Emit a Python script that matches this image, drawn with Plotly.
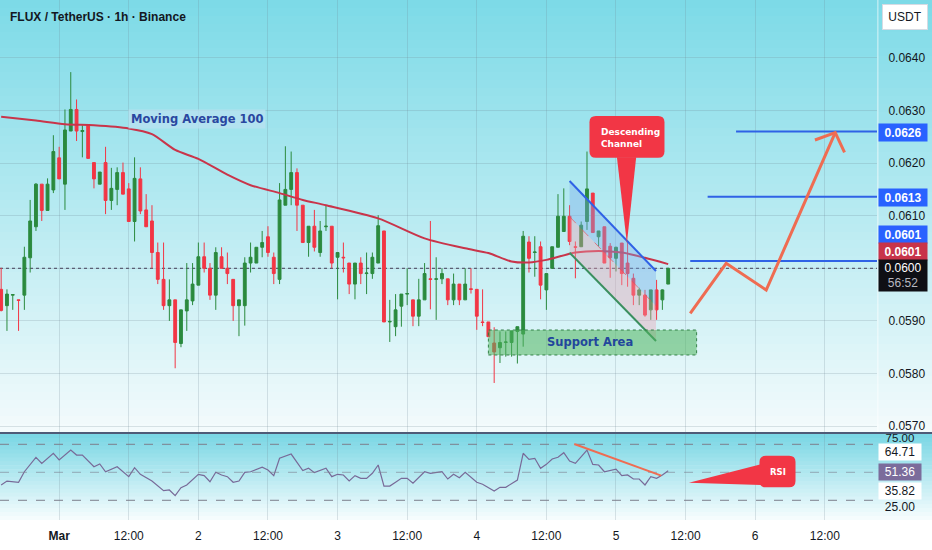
import plotly.graph_objects as go

# ---------------- data ----------------
# hourly candles, x = hours since 1 Mar 00:00
hours = list(range(-10, 106))
opens = [0.05960, 0.05929, 0.05949, 0.05940, 0.05949, 0.06020, 0.06079, 0.06160, 0.06110, 0.06149,
         0.06210, 0.06160, 0.06261, 0.06302, 0.06260, 0.06272, 0.06201, 0.06160, 0.06201, 0.06129,
         0.06150, 0.06182, 0.06151, 0.06089, 0.06170, 0.06111, 0.06090, 0.06030, 0.05979, 0.05929,
         0.05940, 0.05857, 0.05919, 0.05938, 0.05968, 0.06022, 0.06000, 0.05949, 0.06022, 0.06000,
         0.05979, 0.05929, 0.05929, 0.06010, 0.06010, 0.06040, 0.06060, 0.06021, 0.05979, 0.06120,
         0.06150, 0.06182, 0.06120, 0.06049, 0.06080, 0.06030, 0.06079, 0.06080, 0.06021, 0.06021,
         0.06010, 0.05970, 0.06010, 0.05990, 0.05990, 0.06010, 0.06071, 0.05898, 0.05889, 0.05928,
         0.05951, 0.05940, 0.05909, 0.05940, 0.05980, 0.05979, 0.05980, 0.05980, 0.05940, 0.05970,
         0.05940, 0.05961, 0.05960, 0.05898, 0.05898, 0.05858, 0.05849, 0.05859, 0.05859, 0.05880,
         0.05875, 0.06050, 0.06030, 0.06041, 0.05959, 0.06000, 0.06040, 0.06070, 0.06099, 0.06041,
         0.06041, 0.06089, 0.06143, 0.06060, 0.06079, 0.06042, 0.06019, 0.06048, 0.06010, 0.05981,
         0.05949, 0.05949, 0.05921, 0.05959, 0.05940, 0.05970]
highs = [0.06001, 0.05960, 0.05951, 0.05940, 0.06041, 0.06130, 0.06162, 0.06160, 0.06171, 0.06253,
         0.06231, 0.06302, 0.06373, 0.06321, 0.06272, 0.06272, 0.06201, 0.06183, 0.06231, 0.06191,
         0.06192, 0.06201, 0.06162, 0.06211, 0.06192, 0.06141, 0.06120, 0.06049, 0.06049, 0.05979,
         0.05940, 0.05921, 0.06010, 0.06010, 0.06049, 0.06049, 0.06010, 0.06040, 0.06040, 0.06030,
         0.05979, 0.05940, 0.06021, 0.06049, 0.06040, 0.06071, 0.06080, 0.06030, 0.06162, 0.06232,
         0.06222, 0.06190, 0.06120, 0.06080, 0.06111, 0.06090, 0.06120, 0.06080, 0.06030, 0.06049,
         0.06010, 0.06010, 0.06021, 0.06030, 0.06030, 0.06101, 0.06071, 0.05940, 0.05951, 0.05951,
         0.06000, 0.05940, 0.05980, 0.06010, 0.06090, 0.06021, 0.06000, 0.05980, 0.05990, 0.05970,
         0.06000, 0.06000, 0.05960, 0.05960, 0.05898, 0.05888, 0.05880, 0.05880, 0.05881, 0.05889,
         0.06071, 0.06061, 0.06061, 0.06051, 0.05990, 0.06041, 0.06141, 0.06152, 0.06120, 0.06051,
         0.06089, 0.06222, 0.06143, 0.06071, 0.06079, 0.06048, 0.06041, 0.06048, 0.06051, 0.05990,
         0.05963, 0.05959, 0.05959, 0.05978, 0.05960, 0.06000]
lows = [0.05918, 0.05881, 0.05921, 0.05881, 0.05921, 0.05992, 0.06071, 0.06090, 0.06110, 0.06143,
        0.06170, 0.06111, 0.06261, 0.06242, 0.06211, 0.06209, 0.06152, 0.06160, 0.06103, 0.06111,
        0.06120, 0.06141, 0.06089, 0.06051, 0.06103, 0.06079, 0.06000, 0.05970, 0.05921, 0.05900,
        0.05810, 0.05850, 0.05881, 0.05930, 0.05968, 0.05992, 0.05940, 0.05921, 0.06000, 0.05970,
        0.05900, 0.05871, 0.05891, 0.05992, 0.06010, 0.06021, 0.06022, 0.05970, 0.05970, 0.06120,
        0.06120, 0.06071, 0.06049, 0.06022, 0.06032, 0.06022, 0.06071, 0.06000, 0.05941, 0.05992,
        0.05951, 0.05941, 0.05970, 0.05951, 0.05980, 0.06010, 0.05898, 0.05860, 0.05871, 0.05889,
        0.05930, 0.05890, 0.05890, 0.05940, 0.05922, 0.05902, 0.05970, 0.05930, 0.05930, 0.05930,
        0.05940, 0.05952, 0.05883, 0.05890, 0.05870, 0.05782, 0.05820, 0.05832, 0.05832, 0.05819,
        0.05851, 0.05992, 0.05984, 0.05941, 0.05921, 0.06000, 0.06040, 0.06070, 0.06044, 0.05981,
        0.06041, 0.06073, 0.06068, 0.06042, 0.06010, 0.05982, 0.05994, 0.05968, 0.05965, 0.05930,
        0.05930, 0.05908, 0.05902, 0.05902, 0.05921, 0.05970]
closes = [0.05920, 0.05951, 0.05950, 0.05939, 0.06021, 0.06090, 0.06160, 0.06110, 0.06160, 0.06222,
          0.06170, 0.06263, 0.06302, 0.06261, 0.06262, 0.06209, 0.06170, 0.06183, 0.06129, 0.06152,
          0.06182, 0.06141, 0.06089, 0.06171, 0.06109, 0.06079, 0.06030, 0.05979, 0.05929, 0.05940,
          0.05859, 0.05921, 0.05940, 0.05970, 0.06022, 0.06000, 0.05949, 0.06030, 0.06000, 0.05990,
          0.05929, 0.05940, 0.06010, 0.06021, 0.06040, 0.06049, 0.06030, 0.05990, 0.06130, 0.06150,
          0.06182, 0.06120, 0.06049, 0.06080, 0.06040, 0.06071, 0.06080, 0.06010, 0.06030, 0.06020,
          0.05970, 0.06010, 0.05990, 0.05991, 0.06021, 0.06081, 0.05898, 0.05899, 0.05921, 0.05951,
          0.05952, 0.05909, 0.05940, 0.05990, 0.05979, 0.05980, 0.05990, 0.05940, 0.05970, 0.05940,
          0.05970, 0.05960, 0.05909, 0.05897, 0.05870, 0.05841, 0.05859, 0.05860, 0.05881, 0.05889,
          0.06061, 0.06019, 0.06031, 0.05968, 0.05990, 0.06041, 0.06099, 0.06099, 0.06051, 0.06040,
          0.06082, 0.06151, 0.06068, 0.06071, 0.06010, 0.06020, 0.06040, 0.05990, 0.05990, 0.05949,
          0.05959, 0.05911, 0.05959, 0.05921, 0.05959, 0.06000]

ma_hours = [-10, -4, 1, 6, 12, 16, 20, 24, 29, 33, 38, 42, 46, 55, 63, 70, 74, 78, 81, 84,
            89, 93, 97, 101, 105]
ma_values = [0.06288, 0.06281, 0.06274, 0.06272, 0.06266, 0.06255, 0.06225, 0.06208, 0.06178, 0.06158,
             0.06143, 0.06130, 0.06120, 0.06095, 0.06057, 0.06038, 0.06029, 0.06013, 0.06011, 0.06016,
             0.06030, 0.06033, 0.06030, 0.06020, 0.06008]

rsi_hours = [-10, -9, -7, -6, -4, -3, -1, 0, 2, 3,
             4, 6, 7, 8, 10, 12, 13, 14, 16, 18,
             19, 20, 21, 22, 24, 25, 26, 27, 28, 29,
             30, 31, 32, 33, 35, 36, 37, 38, 40, 42,
             43, 44, 46, 47, 48, 49, 50, 51, 52, 53,
             54, 55, 56, 57, 58, 59, 60, 61, 63, 64,
             66, 67, 68, 69, 70, 72, 73, 75, 76, 77,
             79, 80, 81, 82, 83, 84, 85, 86, 87, 88,
             89, 91, 92, 93, 94, 96, 97, 98, 99, 100,
             101, 102, 103, 104, 105]
rsi_values = [38.7, 42.2, 41.1, 50.5, 63.4, 58.0, 67.0, 61.0, 69.9, 65.4,
              65.4, 55.0, 57.4, 50.5, 55.0, 46.1, 54.1, 48.2, 42.2, 33.6,
              34.2, 29.1, 36.3, 38.7, 48.2, 47.0, 41.6, 50.0, 47.6, 46.1,
              41.1, 42.2, 50.0, 50.5, 54.5, 52.1, 47.0, 62.5, 66.3, 51.5,
              53.6, 49.7, 53.6, 46.1, 48.2, 47.6, 42.2, 47.0, 44.6, 44.6,
              49.1, 56.5, 37.7, 37.7, 41.1, 44.6, 44.6, 40.2, 50.5, 49.1,
              50.5, 44.0, 48.2, 45.2, 50.0, 41.1, 39.3, 33.3, 36.6, 36.6,
              43.1, 67.0, 61.6, 62.5, 53.6, 57.1, 61.9, 63.4, 67.5, 60.1,
              58.0, 69.9, 57.1, 56.5, 50.5, 52.9, 47.0, 47.6, 44.0, 44.0,
              38.7, 46.1, 44.6, 47.6, 51.4]

price_ticks = [0.0570, 0.0580, 0.0590, 0.0600, 0.0610, 0.0620, 0.0630, 0.0640]
# 0.0600 is shown inside the last-price badge instead of as a plain tick label
price_tick_labels = ["0.0570", "0.0580", "0.0590", "", "0.0610", "0.0620", "0.0630", "0.0640"]
time_ticks = [0, 12, 24, 36, 48, 60, 72, 84, 96, 108, 120, 132]
time_tick_labels = ["<b>Mar</b>", "12:00", "2", "12:00", "3", "12:00", "4", "12:00", "5", "12:00", "6", "12:00"]

target_levels = [0.06260, 0.06136, 0.06014]
target_labels = ["0.0626", "0.0613", "0.0601"]
target_starts = [116.7, 111.8, 108.8]
last_price = 0.0600
last_price_label = "0.0600"
countdown = "56:52"
ma_last_label = "0.0601"
rsi_labels = ["75.00", "64.71", "51.36", "35.82", "25.00"]

# ---------------- layout constants ----------------
W, H = 932, 550
ML, MR, MT, MB = 0, 55, 0, 30
PW, PH = W - ML - MR, H - MT - MB
MAIN_BOT_PX, RSI_TOP_PX = 432, 434
FONT = "Liberation Sans, Arial, sans-serif"
GREEN, RED = "#2b8a3e", "#f23645"
TXT = "#131722"


def py(px):  # pixel row -> paper y
    return 1 - px / PH


def lerp(c0, c1, t):
    return "rgb(%d,%d,%d)" % tuple(round(a + (b - a) * t) for a, b in zip(c0, c1))


fig = go.Figure()

fig.add_trace(go.Candlestick(
    x=hours, open=opens, high=highs, low=lows, close=closes,
    increasing=dict(line=dict(color=GREEN, width=1), fillcolor=GREEN),
    decreasing=dict(line=dict(color=RED, width=1), fillcolor=RED),
    whiskerwidth=0, xaxis="x", yaxis="y", showlegend=False, hoverinfo="skip"))

fig.add_trace(go.Scatter(x=ma_hours, y=ma_values, mode="lines",
                         line=dict(color="#c9344a", width=2, shape="spline", smoothing=0.7),
                         xaxis="x", yaxis="y", showlegend=False, hoverinfo="skip"))

fig.add_trace(go.Scatter(x=rsi_hours, y=rsi_values, mode="lines",
                         line=dict(color="#786a98", width=1.2),
                         xaxis="x2", yaxis="y2", showlegend=False, hoverinfo="skip"))

shapes = []
# gradient backgrounds
xr = W / PW
n = 54
for i in range(n):
    y0 = MAIN_BOT_PX * i / n
    y1 = MAIN_BOT_PX * (i + 1) / n
    shapes.append(dict(type="rect", xref="paper", yref="paper", x0=0, x1=xr,
                       y0=py(y1 + 0.6), y1=py(y0), line=dict(width=0),
                       fillcolor=lerp((124, 218, 231), (244, 251, 252), (i + 0.5) / n), layer="below"))
n = 22
for i in range(n):
    y0 = RSI_TOP_PX + (PH - RSI_TOP_PX) * i / n
    y1 = RSI_TOP_PX + (PH - RSI_TOP_PX) * (i + 1) / n
    shapes.append(dict(type="rect", xref="paper", yref="paper", x0=0, x1=xr,
                       y0=py(min(y1 + 0.6, PH)), y1=py(y0), line=dict(width=0),
                       fillcolor=lerp((120, 214, 228), (248, 253, 254), (i + 0.5) / n), layer="below"))

# pane separator and axis border
shapes.append(dict(type="line", xref="paper", yref="paper", x0=0, x1=xr, y0=py(433), y1=py(433),
                   line=dict(color="#4e5b78", width=2)))
shapes.append(dict(type="line", xref="paper", yref="paper", x0=1.001, x1=1.001, y0=py(432), y1=1,
                   line=dict(color="rgba(255,255,255,0.7)", width=1)))

# current price dotted line
shapes.append(dict(type="line", xref="paper", yref="y", x0=0, x1=1, y0=last_price, y1=last_price,
                   line=dict(color="#3a2f4a", width=1, dash="dot"), layer="below"))

# RSI bands
for lvl, col in [(75, "#7d7f8c"), (50, "rgba(125,127,140,0.6)"), (25, "#7d7f8c")]:
    shapes.append(dict(type="line", xref="paper", yref="y2", x0=0, x1=1, y0=lvl, y1=lvl,
                       line=dict(color=col, width=1, dash="dash")))

# descending channel
ch_x0, ch_x1 = 88.0, 102.9
top0, top1 = 0.061660, 0.059949
mid0, mid1 = 0.060981, 0.059283
bot0, bot1 = 0.060297, 0.058618
shapes.append(dict(type="path", xref="x", yref="y",
                   path=f"M {ch_x0},{top0} L {ch_x1},{top1} L {ch_x1},{mid1} L {ch_x0},{mid0} Z",
                   fillcolor="rgba(120,170,235,0.38)", line=dict(width=0)))
shapes.append(dict(type="path", xref="x", yref="y",
                   path=f"M {ch_x0},{mid0} L {ch_x1},{mid1} L {ch_x1},{bot1} L {ch_x0},{bot0} Z",
                   fillcolor="rgba(240,160,175,0.38)", line=dict(width=0)))
shapes.append(dict(type="line", xref="x", yref="y", x0=ch_x0, x1=ch_x1, y0=mid0, y1=mid1,
                   line=dict(color="rgba(230,80,90,0.7)", width=1, dash="dash")))
shapes.append(dict(type="line", xref="x", yref="y", x0=ch_x0, x1=ch_x1, y0=top0, y1=top1,
                   line=dict(color="#2f62e6", width=2)))
shapes.append(dict(type="line", xref="x", yref="y", x0=ch_x0, x1=ch_x1, y0=bot0, y1=bot1,
                   line=dict(color="#3b8f5f", width=2)))

# support area
shapes.append(dict(type="rect", xref="x", yref="y", x0=74.0, x1=109.9, y0=0.058352, y1=0.058827,
                   fillcolor="rgba(80,180,95,0.55)", line=dict(color="rgba(40,120,60,0.9)", width=1, dash="dot")))

# target lines
for lvl, start in zip(target_levels, target_starts):
    shapes.append(dict(type="line", xref="x", yref="y", x0=start, x1=141.5, y0=lvl, y1=lvl,
                       line=dict(color="#2f62e6", width=2)))

# projection path
ORANGE = "#ef6c52"
shapes.append(dict(type="path", xref="x", yref="y",
                   path="M 108.8,0.059144 L 115.0,0.060095 L 121.9,0.059587 L 133.8,0.062578",
                   line=dict(color=ORANGE, width=3)))
shapes.append(dict(type="path", xref="x", yref="y",
                   path="M 130.3,0.062439 L 133.8,0.062578 L 135.4,0.062205",
                   line=dict(color=ORANGE, width=3)))

# RSI trend line
shapes.append(dict(type="line", xref="x2", yref="y2", x0=88.8, x1=103.8, y0=75.3, y1=47.0,
                   line=dict(color=ORANGE, width=2)))


def rounded(x0, x1, y0, y1, rx, ry):
    return (f"M {x0+rx},{y1} L {x1-rx},{y1} Q {x1},{y1} {x1},{y1-ry} L {x1},{y0+ry} "
            f"Q {x1},{y0} {x1-rx},{y0} L {x0+rx},{y0} Q {x0},{y0} {x0},{y0+ry} "
            f"L {x0},{y1-ry} Q {x0},{y1} {x0+rx},{y1} Z")


CALL = "#f23645"
# Descending channel callout
shapes.append(dict(type="path", xref="x", yref="y", fillcolor=CALL, line=dict(width=0),
                   path=rounded(91.43, 104.36, 0.062103, 0.062895, 1.1, 0.00012)))
shapes.append(dict(type="path", xref="x", yref="y", fillcolor=CALL, line=dict(width=0),
                   path="M 96.16,0.06211 L 99.48,0.06211 L 97.88,0.060475 Z"))
# RSI callout
shapes.append(dict(type="path", xref="x2", yref="y2", fillcolor=CALL, line=dict(width=0),
                   path=rounded(120.74, 126.95, 36.6, 64.8, 1.1, 5.6)))
shapes.append(dict(type="path", xref="x2", yref="y2", fillcolor=CALL, line=dict(width=0),
                   path="M 108.57,40.7 L 121.0,57.1 L 121.0,38.7 Z"))

ann = []
ann.append(dict(xref="paper", yref="paper", x=8 / PW, y=py(17), xanchor="left", yanchor="middle",
                text="FLUX / TetherUS · 1h · Binance", showarrow=False,
                font=dict(family=FONT, size=12, color=TXT, weight="bold")))
ann.append(dict(xref="x", yref="y", x=23.8, y=0.06284, text="Moving Average 100", showarrow=False,
                bgcolor="rgba(185,225,240,0.75)", borderpad=2,
                font=dict(family="DejaVu Sans, sans-serif", size=11.5, color="#2a47a0", weight="bold")))
ann.append(dict(xref="x", yref="y", x=91.55, y=0.058604, text="Support Area", showarrow=False,
                font=dict(family="DejaVu Sans, sans-serif", size=11.5, color="#22469c", weight="bold")))
ann.append(dict(xref="x", yref="y", x=93.1, y=0.062487, xanchor="left", align="left",
                text="Descending<br>Channel", showarrow=False,
                font=dict(family="DejaVu Sans, sans-serif", size=9, color="white", weight="bold")))
ann.append(dict(xref="x2", yref="y2", x=123.9, y=50.5, text="RSI", showarrow=False,
                font=dict(family="DejaVu Sans, sans-serif", size=8.5, color="white", weight="bold")))


# axis labels / badges
def badge(text, ypx, bg, fg, h=15, w=46, bold=True, border=None, xc=903, size=12):
    d = dict(xref="paper", yref="paper", x=xc / PW, y=py(ypx), xanchor="center", yanchor="middle",
             text=text, showarrow=False, bgcolor=bg, width=w, height=h, borderpad=1,
             font=dict(family=FONT, size=size, color=fg, weight="bold" if bold else "normal"))
    if border:
        d["bordercolor"] = border
        d["borderwidth"] = 1
    return d


ann.append(badge("USDT", 17.5, "white", TXT, h=22, w=42, bold=False, border="#d6dbe3", xc=905))
ann.append(badge(target_labels[0], 132.8, "#2962ff", "white"))
ann.append(badge(target_labels[1], 197.5, "#2962ff", "white"))
ann.append(badge(target_labels[2], 234.5, "#2962ff", "white"))
ann.append(badge(ma_last_label, 251.5, "#c8344a", "white"))
ann.append(badge(f"{last_price_label}<br><span style='color:#b8b8c0'>{countdown}</span>", 275.5,
                 "#0f0f14", "white", h=29, bold=False))
ann.append(badge(rsi_labels[0], 438, "rgba(0,0,0,0)", TXT, h=10, w=40, bold=False, xc=900, size=11.5))
ann.append(badge(rsi_labels[1], 451.5, "white", TXT, h=14, w=40, bold=False, xc=900))
ann.append(badge(rsi_labels[2], 472, "#7b6c9b", "white", h=14, w=40, bold=False, xc=900))
ann.append(badge(rsi_labels[3], 490.5, "white", TXT, h=14, w=40, bold=False, xc=900))
ann.append(badge(rsi_labels[4], 507, "rgba(0,0,0,0)", TXT, h=12, w=40, bold=False, xc=900))

GRID = "rgba(110,130,145,0.22)"
fig.update_layout(
    width=W, height=H, margin=dict(l=ML, r=MR, t=MT, b=MB),
    paper_bgcolor="white", plot_bgcolor="rgba(0,0,0,0)",
    hovermode=False, showlegend=False,
    shapes=shapes, annotations=ann,
    xaxis=dict(domain=[0, 1], anchor="y", range=[-10.2, 141.0], tickvals=time_ticks,
               showticklabels=False, showgrid=True, gridcolor=GRID, zeroline=False,
               rangeslider=dict(visible=False), showline=False, ticks=""),
    xaxis2=dict(domain=[0, 1], anchor="y2", matches="x", range=[-10.2, 141.0], tickvals=time_ticks,
                ticktext=time_tick_labels, showgrid=True, gridcolor=GRID, zeroline=False,
                ticks="outside", ticklen=5, tickcolor="rgba(0,0,0,0)",
                tickfont=dict(family=FONT, size=12, color=TXT), showline=False),
    yaxis=dict(domain=[1 - MAIN_BOT_PX / PH, 1], anchor="x", side="right",
               range=[0.056888, 0.065101], tickvals=price_ticks, ticktext=price_tick_labels,
               showgrid=True, gridcolor=GRID, zeroline=False, ticks="outside", ticklen=8,
               tickcolor="rgba(0,0,0,0)", tickfont=dict(family=FONT, size=12, color=TXT)),
    yaxis2=dict(domain=[0, 1 - RSI_TOP_PX / PH], anchor="x2", side="right", range=[7.4, 84.2],
                showticklabels=False, showgrid=False, zeroline=False, ticks=""),
)

fig.write_html("out.html", config={"displayModeBar": False},
               post_script="document.body.style.margin='0';document.body.style.overflow='hidden';")
